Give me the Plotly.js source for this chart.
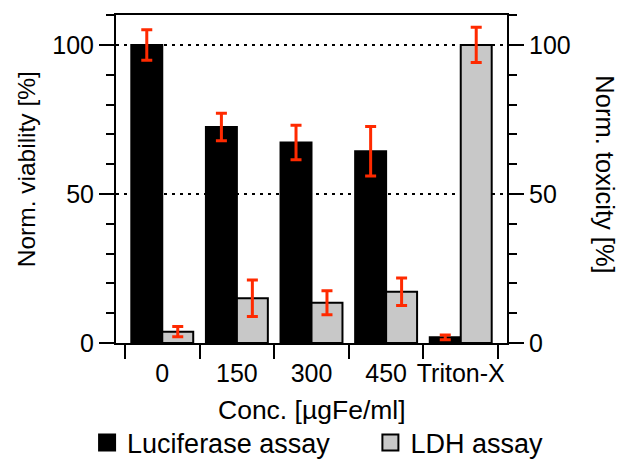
<!DOCTYPE html>
<html><head><meta charset="utf-8">
<script src="https://cdn.plot.ly/plotly-3.0.1.min.js"></script>
<style>html,body{margin:0;padding:0;background:#fff}</style>
</head><body><div id="chart" style="width:622px;height:460px"></div>
<script>
const categories = ['0', '150', '300', '450', 'Triton-X'];
const luciferase = [100, 72.5, 67.3, 64.3, 1.9];
const luciferaseErr = [5.1, 4.6, 5.8, 8.3, 0.8];
const ldh = [3.8, 15.0, 13.5, 17.2, 100];
const ldhErr = [1.7, 6.1, 4.0, 4.6, 5.9];
const seriesNames = ['Luciferase assay', 'LDH assay'];
const yTicks = [0, 50, 100];

const FONT = 'Liberation Sans, Arial, Helvetica, sans-serif';
const RED = '#ff2a00';
const GRAY = '#c8c8c8';

const errStyle = arr => ({type: 'data', array: arr, visible: true, color: RED, thickness: 3, width: 5.5});

const traces = [
  {type: 'bar', x: categories, y: luciferase, name: seriesNames[0], yaxis: 'y', offsetgroup: 'a',
   marker: {color: '#000', line: {color: '#000', width: 2}}, error_y: errStyle(luciferaseErr), showlegend: false},
  {type: 'bar', x: categories, y: ldh, name: seriesNames[1], yaxis: 'y2', offsetgroup: 'b',
   marker: {color: GRAY, line: {color: '#000', width: 2}}, error_y: errStyle(ldhErr), showlegend: false},
  {type: 'scatter', mode: 'markers', x: [null], y: [null], name: seriesNames[0], showlegend: true, legend: 'legend',
   marker: {symbol: 'square', size: 16, color: '#000', line: {color: '#000', width: 2}}},
  {type: 'scatter', mode: 'markers', x: [null], y: [null], name: seriesNames[1], showlegend: true, legend: 'legend2',
   marker: {symbol: 'square', size: 16, color: GRAY, line: {color: '#000', width: 2}}}
];

const yBase = {
  range: [0, 110.05], tickvals: yTicks, ticktext: yTicks.map(String),
  ticks: 'outside', ticklen: 15, tickwidth: 2, tickcolor: '#000',
  showline: true, linewidth: 2, linecolor: '#000', zeroline: false,
  tickfont: {size: 25, color: '#000'}, fixedrange: true,
  minor: {dtick: 10, tick0: 0, ticks: 'outside', ticklen: 8, tickwidth: 2, tickcolor: '#000', showgrid: false}
};

const legendBase = {orientation: 'h', xref: 'container', yref: 'container', y: 0.037,
                    xanchor: 'left', yanchor: 'middle', font: {size: 27}, itemsizing: 'trace',
                    bgcolor: 'rgba(0,0,0,0)'};

const layout = {
  width: 622, height: 460,
  margin: {l: 116, r: 115, t: 15, b: 117},
  paper_bgcolor: '#fff', plot_bgcolor: '#fff',
  font: {family: FONT, color: '#000', size: 25},
  barmode: 'group', bargap: 0.17, bargroupgap: 0,
  xaxis: {
    type: 'category', range: [-0.62, 4.62], showline: true, linewidth: 2, linecolor: '#000', mirror: true,
    ticks: 'outside', tickson: 'boundaries', ticklen: 14, tickwidth: 2, tickcolor: '#000', tickangle: 0,
    ticklabelstandoff: 7,
    showgrid: false, zeroline: false, tickfont: {size: 25}, fixedrange: true
  },
  yaxis: Object.assign({}, yBase, {showgrid: true, gridcolor: '#000', gridwidth: 2, griddash: '3px,5px'}),
  yaxis2: Object.assign({}, yBase, {overlaying: 'y', side: 'right', showgrid: false}),
  showlegend: true,
  legend: Object.assign({}, legendBase, {x: 0.1400}),
  legend2: Object.assign({}, legendBase, {x: 0.5955}),
  annotations: [
    {text: 'Norm. viability [%]', xref: 'paper', yref: 'paper', x: -0.230, y: 0.53, textangle: -90,
     showarrow: false, xanchor: 'center', yanchor: 'middle', font: {size: 24.5}},
    {text: 'Norm. toxicity [%]', xref: 'paper', yref: 'paper', x: 1.250, y: 0.515, textangle: 90,
     showarrow: false, xanchor: 'center', yanchor: 'middle', font: {size: 25.5}},
    {text: 'Conc. [µgFe/ml]', xref: 'paper', yref: 'paper', x: 0.501, y: -0.204,
     showarrow: false, xanchor: 'center', yanchor: 'middle', font: {size: 26.5}}
  ]
};

Plotly.newPlot('chart', traces, layout, {displayModeBar: false, staticPlot: true});
</script></body></html>
